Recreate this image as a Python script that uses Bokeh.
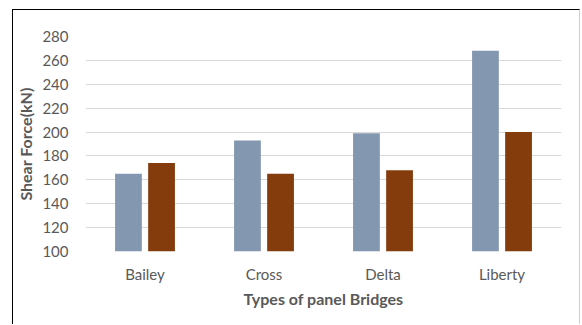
from bokeh.plotting import figure
from bokeh.models import FactorRange, Range1d
from bokeh.transform import dodge
from bokeh.embed import file_html
from bokeh.resources import INLINE

# Shear force per panel bridge type, two load cases
bridges = ["Bailey", "Cross", "Delta", "Liberty"]
shear_case_1 = [165, 193, 199, 268]
shear_case_2 = [174, 165, 168, 200]
y_ticks = [100, 120, 140, 160, 180, 200, 220, 240, 260, 280]

FONT = "Lato"
TEXT_COLOR = "#595959"

p = figure(
    x_range=FactorRange(*bridges, range_padding=0),
    y_range=Range1d(100, 280),
    width=568,
    height=315,
    output_backend="svg",
    toolbar_location=None,
    min_border_left=68,
    min_border_right=20,
    min_border_top=26,
    min_border_bottom=74,
)
p.styles = {
    "margin-left": "12px",
    "margin-top": "9px",
    "border-left": "1px solid #000000",
    "border-top": "1px solid #000000",
    "border-right": "1px solid #cfcfcf",
}

source = dict(bridge=bridges, c1=shear_case_1, c2=shear_case_2)

p.vbar(x=dodge("bridge", -0.139, range=p.x_range), top="c1", bottom=100,
       width=0.225, source=source, fill_color="#8497B0", line_color=None)
p.vbar(x=dodge("bridge", 0.139, range=p.x_range), top="c2", bottom=100,
       width=0.225, source=source, fill_color="#843C0C", line_color=None)

p.outline_line_color = None
p.background_fill_color = "white"
p.border_fill_color = "white"

p.xgrid.grid_line_color = None
p.ygrid.grid_line_color = "#d9d9d9"
p.ygrid.grid_line_width = 1

p.yaxis.ticker = y_ticks
p.yaxis.axis_line_color = None
p.yaxis.major_tick_line_color = None
p.yaxis.minor_tick_line_color = None
p.yaxis.major_label_text_font = FONT
p.yaxis.major_label_text_font_size = "15px"
p.yaxis.major_label_text_color = TEXT_COLOR
p.yaxis.major_label_standoff = 11
p.yaxis.axis_label = "Shear Force(kN)"
p.yaxis.axis_label_text_font = FONT
p.yaxis.axis_label_text_font_size = "16px"
p.yaxis.axis_label_text_font_style = "bold"
p.yaxis.axis_label_text_color = TEXT_COLOR
p.yaxis.axis_label_standoff = 4

p.xaxis.axis_line_color = None
p.xaxis.major_tick_line_color = None
p.xaxis.minor_tick_line_color = None
p.xaxis.major_label_text_font = FONT
p.xaxis.major_label_text_font_size = "15px"
p.xaxis.major_label_text_color = TEXT_COLOR
p.xaxis.major_label_standoff = 7
p.xaxis.axis_label = "Types of panel Bridges"
p.xaxis.axis_label_text_font = FONT
p.xaxis.axis_label_text_font_size = "16px"
p.xaxis.axis_label_text_font_style = "bold"
p.xaxis.axis_label_text_color = TEXT_COLOR
p.xaxis.axis_label_standoff = 3

open("out.html", "w").write(file_html(p, INLINE))
